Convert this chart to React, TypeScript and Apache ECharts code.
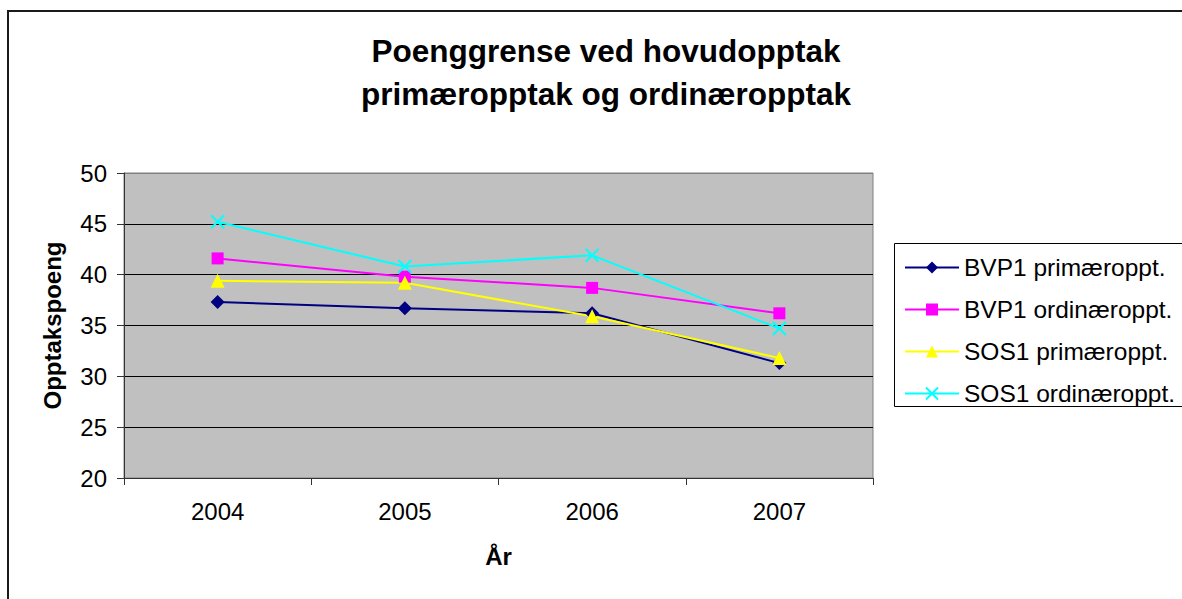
import React, { useEffect, useRef } from "react";
import * as echarts from "echarts";

const years = ["2004", "2005", "2006", "2007"];
const seriesNames = [
  "BVP1 primæroppt.",
  "BVP1 ordinæroppt.",
  "SOS1 primæroppt.",
  "SOS1 ordinæroppt.",
];
const bvp1Primaer = [37.3, 36.7, 36.2, 31.3];
const bvp1Ordinaer = [41.6, 39.8, 38.7, 36.2];
const sos1Primaer = [39.4, 39.2, 35.9, 31.8];
const sos1Ordinaer = [45.2, 40.8, 41.9, 34.7];
const yMin = 20;
const yMax = 50;
const yStep = 5;

const titleText = "Poenggrense ved hovudopptak\nprimæropptak og ordinæropptak";
const font = "'Liberation Sans', Arial, sans-serif";

export default function App() {
  const ref = useRef<HTMLDivElement>(null);
  useEffect(() => {
    if (!ref.current) return;
    const chart = echarts.init(ref.current, null, { renderer: "svg" });
    const xPath = "path://M0,0 L10,10 M10,0 L0,10";
    const option: any = {
      animation: false,
      backgroundColor: "#ffffff",
      textStyle: { fontFamily: font },
      title: {
        text: titleText,
        left: 601,
        top: 24,
        textAlign: "center",
        textStyle: {
          fontFamily: font,
          fontSize: 31.5,
          fontWeight: "bold",
          color: "#000",
          lineHeight: 43,
        },
      },
      graphic: [
        {
          type: "rect",
          shape: { x: 8, y: 11, width: 1400, height: 900 },
          style: { fill: "none", stroke: "#1a1a1a", lineWidth: 2 },
          silent: true,
          z: 100,
        },
        {
          type: "rect",
          shape: { x: 894.5, y: 243.5, width: 400, height: 163 },
          style: { fill: "#fff", stroke: "#000", lineWidth: 1 },
          silent: true,
          z: 0,
        },
      ],
      legend: {
        orient: "vertical",
        left: 904,
        top: 255,
        padding: 0,
        itemGap: 17,
        itemWidth: 54,
        itemHeight: 15,
        textStyle: { fontFamily: font, fontSize: 24.5, color: "#000" },
        data: seriesNames,
        z: 5,
      },
      grid: {
        left: 124,
        top: 173,
        right: 309,
        bottom: 121,
        show: true,
        backgroundColor: "#c0c0c0",
        borderColor: "#808080",
        borderWidth: 1,
      },
      xAxis: {
        type: "category",
        data: years,
        boundaryGap: true,
        name: "År",
        nameLocation: "middle",
        nameGap: 66,
        nameTextStyle: { fontFamily: font, fontSize: 24, fontWeight: "bold", color: "#000" },
        axisLine: { lineStyle: { color: "#333", width: 1 } },
        axisTick: { show: true, length: 7, alignWithLabel: false, lineStyle: { color: "#333" } },
        axisLabel: { margin: 21, fontSize: 24, color: "#000", fontFamily: font },
        splitLine: { show: false },
      },
      yAxis: {
        type: "value",
        min: yMin,
        max: yMax,
        interval: yStep,
        name: "Opptakspoeng",
        nameLocation: "middle",
        nameGap: 60,
        nameTextStyle: { fontFamily: font, fontSize: 24, fontWeight: "bold", color: "#000" },
        axisLine: { show: true, lineStyle: { color: "#333", width: 1 } },
        axisTick: { show: true, length: 7, inside: false, lineStyle: { color: "#333" } },
        axisLabel: { margin: 17, fontSize: 24, color: "#000", fontFamily: font },
        splitLine: {
          show: true,
          lineStyle: {
            color: ["#333", "#000", "#000", "#000", "#000", "#000", "#808080"],
            width: 1,
          },
        },
      },
      series: [
        {
          name: seriesNames[0],
          type: "line",
          data: bvp1Primaer,
          symbol: "diamond",
          symbolSize: 14,
          lineStyle: { color: "#000080", width: 2 },
          itemStyle: { color: "#000080" },
        },
        {
          name: seriesNames[1],
          type: "line",
          data: bvp1Ordinaer,
          symbol: "rect",
          symbolSize: 12,
          lineStyle: { color: "#ff00ff", width: 2 },
          itemStyle: { color: "#ff00ff" },
        },
        {
          name: seriesNames[2],
          type: "line",
          data: sos1Primaer,
          symbol: "triangle",
          symbolSize: 14,
          lineStyle: { color: "#ffff00", width: 2 },
          itemStyle: { color: "#ffff00" },
        },
        {
          name: seriesNames[3],
          type: "line",
          data: sos1Ordinaer,
          symbol: xPath,
          symbolSize: 13,
          lineStyle: { color: "#00ffff", width: 2 },
          itemStyle: { color: "#00ffff", borderColor: "#00ffff", borderWidth: 2 },
        },
      ],
    };
    chart.setOption(option);
    return () => chart.dispose();
  }, []);
  return (
    <div
      ref={ref}
      style={{ position: "fixed", left: 0, top: 0, width: 1182, height: 599 }}
    />
  );
}
